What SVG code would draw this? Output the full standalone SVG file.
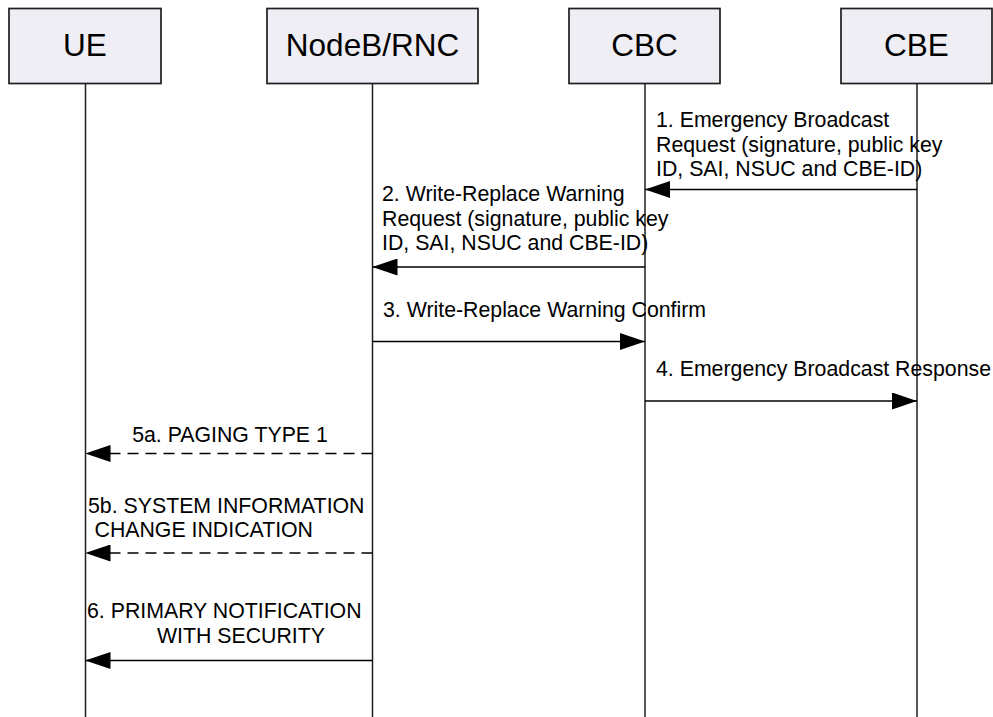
<svg xmlns="http://www.w3.org/2000/svg" width="993" height="717" viewBox="0 0 993 717">
<style>
.box{fill:#efeef4;stroke:#1e1e1e;stroke-width:1.7}
.life{stroke:#1e1e1e;stroke-width:1.5}
.hdr{font-family:"Liberation Sans",Arial,sans-serif;font-size:31.5px;fill:#000;text-anchor:middle}
.lbl{font-family:"Liberation Sans",Arial,sans-serif;font-size:21.3px;fill:#000}
.msg{stroke:#000;stroke-width:1.5;fill:none;marker-end:url(#ah)}
.dash{stroke-dasharray:11 7}
</style>
<defs>
<marker id="ah" markerUnits="userSpaceOnUse" markerWidth="25" markerHeight="17" refX="25" refY="8.5" orient="auto">
<path d="M0,0 L25,8.5 L0,17 z" fill="#000"/>
</marker>
</defs>
<rect width="993" height="717" fill="#fff"/>
<g id="lifelines">
<line class="life" x1="85.5" y1="83" x2="85.5" y2="717"/>
<line class="life" x1="372.5" y1="83" x2="372.5" y2="717"/>
<line class="life" x1="645" y1="83" x2="645" y2="717"/>
<line class="life" x1="917" y1="83" x2="917" y2="717"/>
</g>
<g id="UE">
<rect class="box" x="9" y="8.5" width="152" height="75"/>
<text class="hdr" x="85" y="56">UE</text>
</g>
<g id="NodeB_RNC">
<rect class="box" x="267" y="8.5" width="211" height="75"/>
<text class="hdr" x="372.5" y="56">NodeB/RNC</text>
</g>
<g id="CBC">
<rect class="box" x="569" y="8.5" width="151" height="75"/>
<text class="hdr" x="644.5" y="56">CBC</text>
</g>
<g id="CBE">
<rect class="box" x="841" y="8.5" width="151" height="75"/>
<text class="hdr" x="916.5" y="56">CBE</text>
</g>
<g id="connectors">
<line class="msg" x1="917" y1="189.5" x2="645" y2="189.5"/>
<line class="msg" x1="645" y1="267" x2="372.5" y2="267"/>
<line class="msg" x1="372.5" y1="341.5" x2="645" y2="341.5"/>
<line class="msg" x1="645" y1="401" x2="917" y2="401"/>
<line class="msg dash" x1="372.5" y1="453.5" x2="85.5" y2="453.5"/>
<line class="msg dash" x1="372.5" y1="553" x2="85.5" y2="553"/>
<line class="msg" x1="372.5" y1="660.5" x2="85.5" y2="660.5"/>
</g>
<g id="labels">
<text class="lbl" x="656" y="127">1. Emergency Broadcast</text>
<text class="lbl" x="656" y="151.5">Request (signature, public key</text>
<text class="lbl" x="656" y="176">ID, SAI, NSUC and CBE-ID)</text>
<text class="lbl" x="382" y="201">2. Write-Replace Warning</text>
<text class="lbl" x="382" y="225.5">Request (signature, public key</text>
<text class="lbl" x="382" y="250">ID, SAI, NSUC and CBE-ID)</text>
<text class="lbl" x="383" y="316.5">3. Write-Replace Warning Confirm</text>
<text class="lbl" x="656" y="376">4. Emergency Broadcast Response</text>
<text class="lbl" x="230" y="441.5" text-anchor="middle">5a. PAGING TYPE 1</text>
<text class="lbl" x="88" y="513">5b. SYSTEM INFORMATION</text>
<text class="lbl" x="94.5" y="537">CHANGE INDICATION</text>
<text class="lbl" x="87" y="618">6. PRIMARY NOTIFICATION</text>
<text class="lbl" x="157" y="643">WITH SECURITY</text>
</g>
</svg>
